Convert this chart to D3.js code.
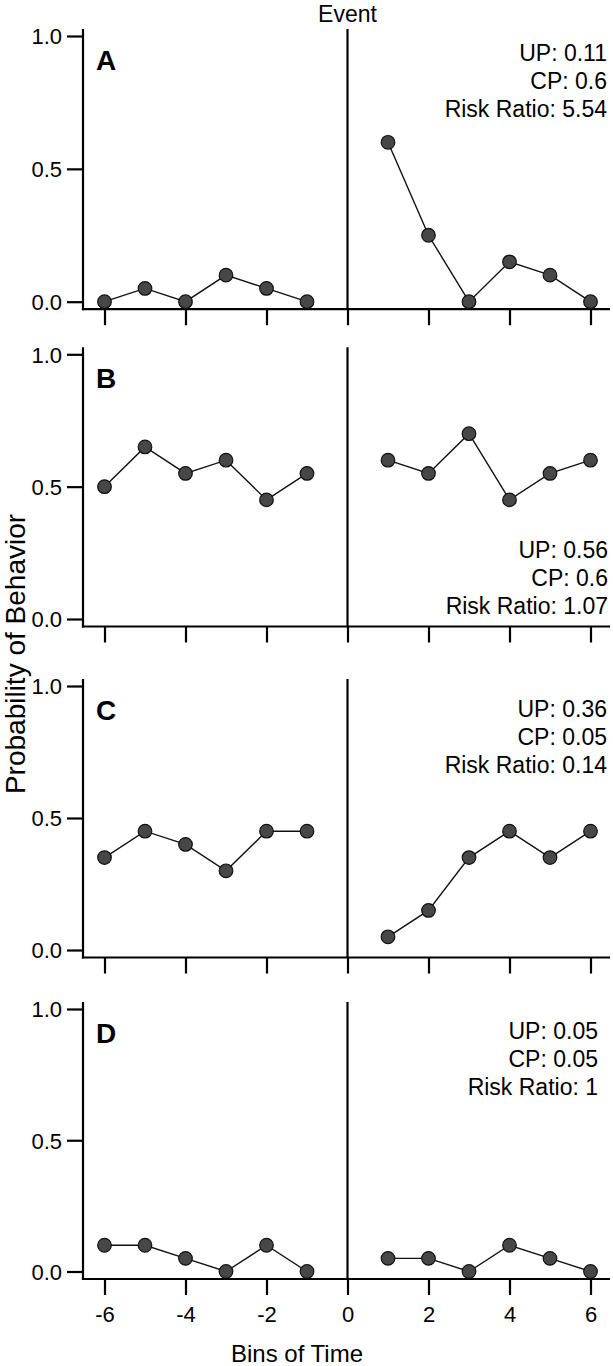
<!DOCTYPE html>
<html>
<head>
<meta charset="utf-8">
<script src="https://cdn.jsdelivr.net/npm/d3@7"></script>
<style>
  body { margin: 0; background: #fff; }
  svg text { font-family: "Liberation Sans", Arial, Helvetica, sans-serif; fill: #000; }
</style>
</head>
<body>
<svg id="chart" width="613" height="1366"></svg>
<script>
// ---- data ----
const panelLabels = ["A", "B", "C", "D"];
const preBins = [-6, -5, -4, -3, -2, -1];
const postBins = [1, 2, 3, 4, 5, 6];
const preValues = [
  [0, 0.05, 0, 0.10, 0.05, 0],
  [0.50, 0.65, 0.55, 0.60, 0.45, 0.55],
  [0.35, 0.45, 0.40, 0.30, 0.45, 0.45],
  [0.10, 0.10, 0.05, 0, 0.10, 0]
];
const postValues = [
  [0.60, 0.25, 0, 0.15, 0.10, 0],
  [0.60, 0.55, 0.70, 0.45, 0.55, 0.60],
  [0.05, 0.15, 0.35, 0.45, 0.35, 0.45],
  [0.05, 0.05, 0, 0.10, 0.05, 0]
];
const statsUP = ["0.11", "0.56", "0.36", "0.05"];
const statsCP = ["0.6", "0.6", "0.05", "0.05"];
const statsRR = ["5.54", "1.07", "0.14", "1"];
const xTicks = [-6, -4, -2, 0, 2, 4, 6];
const yTicks = [0, 0.5, 1.0];

// ---- layout ----
const topPx = [36, 354.3, 686, 1009];      // y pixel of value 1.0
const zeroPx = [301.7, 619, 950, 1271.5];  // y pixel of value 0.0
const statsBaseline = [61, 558, 717, 1039]; // first stats line baseline
const statsRight = [607, 608, 607, 598];
const axisX = 83, axisRight = 610;

const svg = d3.select("#chart");
const x = d3.scaleLinear().domain([-6, 6]).range([104.5, 590.5]);
const hyphenFmt = d => (d < 0 ? "-" + Math.abs(d) : String(d));

panelLabels.forEach((lab, i) => {
  const y = d3.scaleLinear().domain([0, 1]).range([zeroPx[i], topPx[i]]);
  const g = svg.append("g");
  const baseY = y(0) + 7.5;
  const axisTop = y(1) - 7;

  // y axis
  const ya = g.append("g").attr("transform", `translate(${axisX},0)`)
    .call(d3.axisLeft(y).tickValues(yTicks).tickFormat(d3.format(".1f")).tickSize(16).tickPadding(5));
  ya.select(".domain").remove();
  ya.selectAll("line").attr("stroke", "#000").attr("stroke-width", 2.2);
  ya.selectAll("text").style("font-size", "22px").attr("dy", "0.36em");

  // x axis
  const xa = g.append("g").attr("transform", `translate(0,${baseY})`)
    .call(d3.axisBottom(x).tickValues(xTicks).tickFormat(hyphenFmt).tickSize(16).tickPadding(11));
  xa.select(".domain").remove();
  xa.selectAll("line").attr("stroke", "#000").attr("stroke-width", 2.2);
  if (i === panelLabels.length - 1) {
    xa.selectAll("text").style("font-size", "22px");
  } else {
    xa.selectAll("text").remove();
  }

  // axis lines
  g.append("line").attr("x1", axisX).attr("x2", axisX).attr("y1", axisTop).attr("y2", baseY + 1.1)
    .attr("stroke", "#000").attr("stroke-width", 2.2);
  g.append("line").attr("x1", axisX - 1.1).attr("x2", axisRight).attr("y1", baseY).attr("y2", baseY)
    .attr("stroke", "#000").attr("stroke-width", 2.2);
  // event line
  g.append("line").attr("x1", x(0)).attr("x2", x(0)).attr("y1", axisTop).attr("y2", baseY)
    .attr("stroke", "#000").attr("stroke-width", 2.2);

  // series
  const line = d3.line().x(d => x(d[0])).y(d => y(d[1]));
  [[preBins, preValues[i]], [postBins, postValues[i]]].forEach(([bins, vals]) => {
    const pts = bins.map((b, k) => [b, vals[k]]);
    g.append("path").attr("d", line(pts)).attr("fill", "none")
      .attr("stroke", "#111").attr("stroke-width", 1.4);
    g.selectAll(null).data(pts).enter().append("circle")
      .attr("cx", d => x(d[0])).attr("cy", d => y(d[1])).attr("r", 6.8)
      .attr("fill", "#474747").attr("stroke", "#111").attr("stroke-width", 1.2);
  });

  // panel label
  g.append("text").attr("x", 96).attr("y", y(1) + 34)
    .style("font-size", "28px").style("font-weight", "bold").text(lab);

  // stats
  const lines = ["UP: " + statsUP[i], "CP: " + statsCP[i], "Risk Ratio: " + statsRR[i]];
  lines.forEach((t, k) => {
    g.append("text").attr("x", statsRight[i]).attr("y", statsBaseline[i] + k * 27.8)
      .attr("text-anchor", "end").style("font-size", "23px").text(t);
  });
});

// titles
svg.append("text").attr("x", x(0)).attr("y", 22).attr("text-anchor", "middle")
  .style("font-size", "23px").text("Event");
svg.append("text").attr("x", 297).attr("y", 1362).attr("text-anchor", "middle")
  .style("font-size", "24px").text("Bins of Time");
svg.append("text").attr("transform", "translate(25,654) rotate(-90)").attr("text-anchor", "middle")
  .style("font-size", "28px").text("Probability of Behavior");
</script>
</body>
</html>
